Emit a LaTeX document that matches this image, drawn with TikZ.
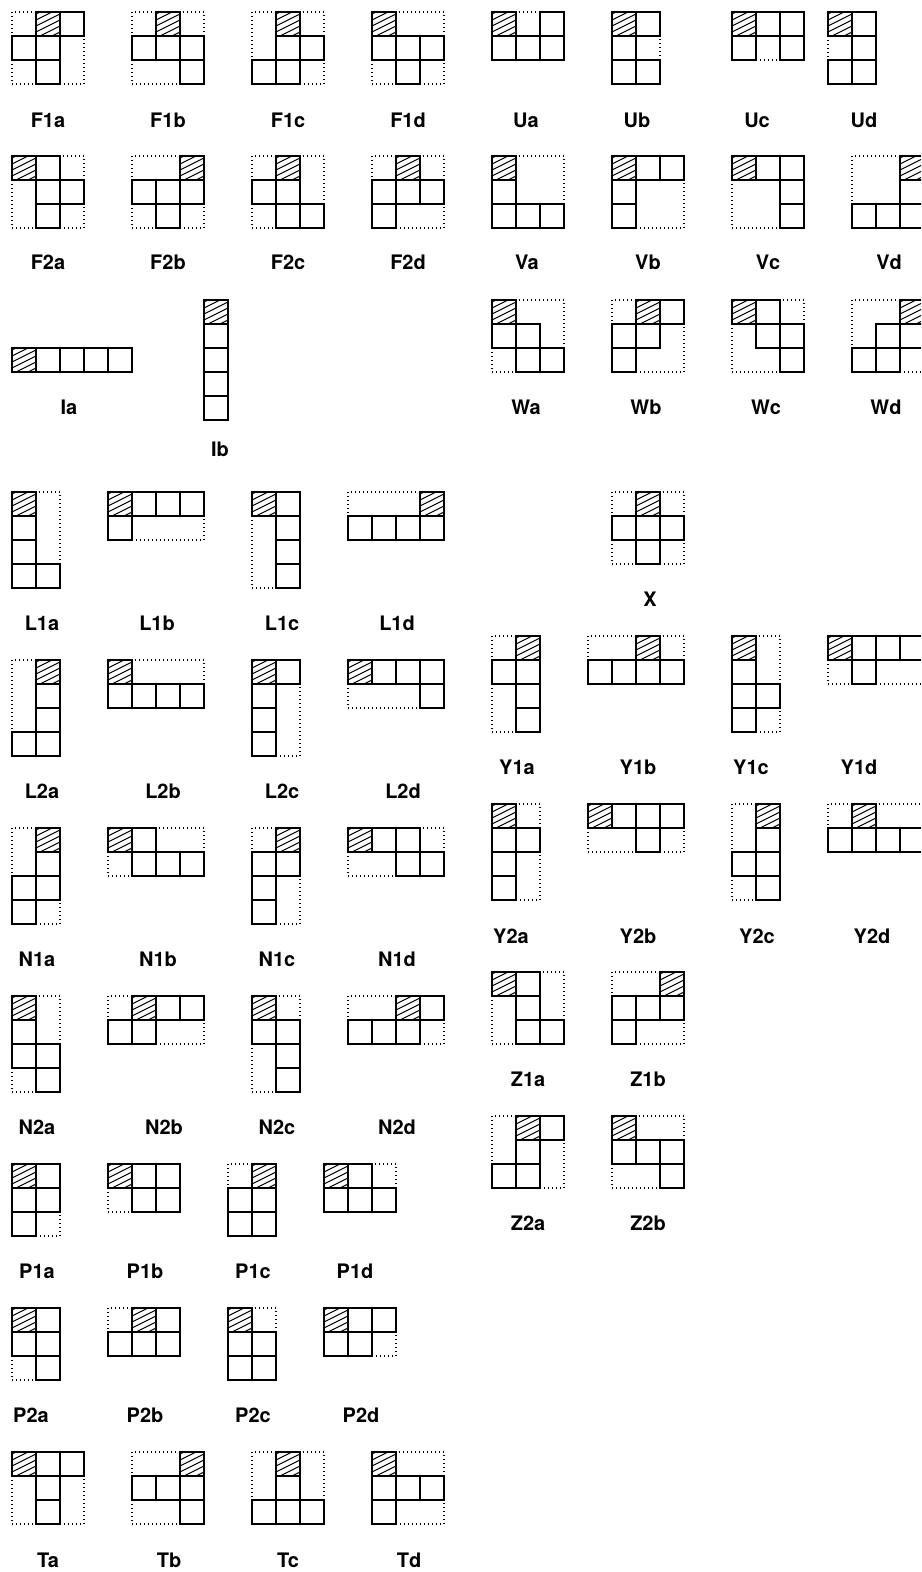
\documentclass[tikz,border=0pt]{standalone}
\usepackage{fontspec}
\newfontfamily\labfont{TeX Gyre Heros}
\tikzset{
  cellln/.style={line width=0.03cm, line join=miter},
  dotbox/.style={line width=0.03cm, dash pattern=on 0.03cm off 0.07cm},
  hatchln/.style={line width=0.025cm},
  lab/.style={anchor=base, inner sep=0pt, font=\labfont\bfseries\fontsize{14.2pt}{17pt}\selectfont}
}
% #1 u0, #2 v0, #3 w, #4 h, #5 #6 hatched cell, #7 other cells
\newcommand{\pfig}[7]{%
  \draw[dotbox] ({12+24*#1},{12+24*#2}) rectangle +({24*#3},{24*#4});
  \begin{scope}
    \clip ({12+24*(#1+#5)},{12+24*(#2+#6)}) rectangle +(24,24);
    \foreach \k in {0,...,6} \draw[hatchln] ({12+24*(#1+#5)},{12+24*(#2+#6)+6*\k+2}) -- +(24,-12);
  \end{scope}
  \draw[cellln] ({12+24*(#1+#5)},{12+24*(#2+#6)}) rectangle +(24,24);
  \foreach \i/\j in {#7} {\draw[cellln] ({12+24*(#1+\i)},{12+24*(#2+\j)}) rectangle +(24,24);}
}
\begin{document}
\begin{tikzpicture}[x=0.025cm, y=-0.025cm]
\path[use as bounding box] (0,0) rectangle (921,1572);
\fill[white] (0,0) rectangle (921,1572);
\clip (0,0) rectangle (921,1572);
% Row F1 / U
\pfig{0}{0}{3}{3}{1}{0}{2/0,0/1,1/1,1/2}
\pfig{5}{0}{3}{3}{1}{0}{0/1,1/1,2/1,2/2}
\pfig{10}{0}{3}{3}{1}{0}{1/1,2/1,0/2,1/2}
\pfig{15}{0}{3}{3}{0}{0}{0/1,1/1,2/1,1/2}
\pfig{20}{0}{3}{2}{0}{0}{2/0,0/1,1/1,2/1}
\pfig{25}{0}{2}{3}{0}{0}{1/0,0/1,0/2,1/2}
\pfig{30}{0}{3}{2}{0}{0}{1/0,2/0,0/1,2/1}
\pfig{34}{0}{2}{3}{0}{0}{1/0,1/1,0/2,1/2}
% Row F2 / V
\pfig{0}{6}{3}{3}{0}{0}{1/0,1/1,2/1,1/2}
\pfig{5}{6}{3}{3}{2}{0}{0/1,1/1,2/1,1/2}
\pfig{10}{6}{3}{3}{1}{0}{0/1,1/1,1/2,2/2}
\pfig{15}{6}{3}{3}{1}{0}{0/1,1/1,2/1,0/2}
\pfig{20}{6}{3}{3}{0}{0}{0/1,0/2,1/2,2/2}
\pfig{25}{6}{3}{3}{0}{0}{1/0,2/0,0/1,0/2}
\pfig{30}{6}{3}{3}{0}{0}{1/0,2/0,2/1,2/2}
\pfig{35}{6}{3}{3}{2}{0}{2/1,0/2,1/2,2/2}
% Row I / W
\pfig{0}{14}{5}{1}{0}{0}{1/0,2/0,3/0,4/0}
\pfig{8}{12}{1}{5}{0}{0}{0/1,0/2,0/3,0/4}
\pfig{20}{12}{3}{3}{0}{0}{0/1,1/1,1/2,2/2}
\pfig{25}{12}{3}{3}{1}{0}{2/0,0/1,1/1,0/2}
\pfig{30}{12}{3}{3}{0}{0}{1/0,1/1,2/1,2/2}
\pfig{35}{12}{3}{3}{2}{0}{1/1,2/1,0/2,1/2}
% L1 / X
\pfig{0}{20}{2}{4}{0}{0}{0/1,0/2,0/3,1/3}
\pfig{4}{20}{4}{2}{0}{0}{1/0,2/0,3/0,0/1}
\pfig{10}{20}{2}{4}{0}{0}{1/0,1/1,1/2,1/3}
\pfig{14}{20}{4}{2}{3}{0}{0/1,1/1,2/1,3/1}
\pfig{25}{20}{3}{3}{1}{0}{0/1,1/1,2/1,1/2}
% L2
\pfig{0}{27}{2}{4}{1}{0}{1/1,1/2,0/3,1/3}
\pfig{4}{27}{4}{2}{0}{0}{0/1,1/1,2/1,3/1}
\pfig{10}{27}{2}{4}{0}{0}{1/0,0/1,0/2,0/3}
\pfig{14}{27}{4}{2}{0}{0}{1/0,2/0,3/0,3/1}
% Y1
\pfig{20}{26}{2}{4}{1}{0}{0/1,1/1,1/2,1/3}
\pfig{24}{26}{4}{2}{2}{0}{0/1,1/1,2/1,3/1}
\pfig{30}{26}{2}{4}{0}{0}{0/1,0/2,1/2,0/3}
\pfig{34}{26}{4}{2}{0}{0}{1/0,2/0,3/0,1/1}
% Y2
\pfig{20}{33}{2}{4}{0}{0}{0/1,1/1,0/2,0/3}
\pfig{24}{33}{4}{2}{0}{0}{1/0,2/0,3/0,2/1}
\pfig{30}{33}{2}{4}{1}{0}{1/1,0/2,1/2,1/3}
\pfig{34}{33}{4}{2}{1}{0}{0/1,1/1,2/1,3/1}
% Z1, Z2
\pfig{20}{40}{3}{3}{0}{0}{1/0,1/1,1/2,2/2}
\pfig{25}{40}{3}{3}{2}{0}{0/1,1/1,2/1,0/2}
\pfig{20}{46}{3}{3}{1}{0}{2/0,1/1,0/2,1/2}
\pfig{25}{46}{3}{3}{0}{0}{0/1,1/1,2/1,2/2}
% N1
\pfig{0}{34}{2}{4}{1}{0}{1/1,0/2,1/2,0/3}
\pfig{4}{34}{4}{2}{0}{0}{1/0,1/1,2/1,3/1}
\pfig{10}{34}{2}{4}{1}{0}{0/1,1/1,0/2,0/3}
\pfig{14}{34}{4}{2}{0}{0}{1/0,2/0,2/1,3/1}
% N2
\pfig{0}{41}{2}{4}{0}{0}{0/1,0/2,1/2,1/3}
\pfig{4}{41}{4}{2}{1}{0}{2/0,3/0,0/1,1/1}
\pfig{10}{41}{2}{4}{0}{0}{0/1,1/1,1/2,1/3}
\pfig{14}{41}{4}{2}{2}{0}{3/0,0/1,1/1,2/1}
% P1
\pfig{0}{48}{2}{3}{0}{0}{1/0,0/1,1/1,0/2}
\pfig{4}{48}{3}{2}{0}{0}{1/0,2/0,1/1,2/1}
\pfig{9}{48}{2}{3}{1}{0}{0/1,1/1,0/2,1/2}
\pfig{13}{48}{3}{2}{0}{0}{1/0,0/1,1/1,2/1}
% P2
\pfig{0}{54}{2}{3}{0}{0}{1/0,0/1,1/1,1/2}
\pfig{4}{54}{3}{2}{1}{0}{2/0,0/1,1/1,2/1}
\pfig{9}{54}{2}{3}{0}{0}{0/1,1/1,0/2,1/2}
\pfig{13}{54}{3}{2}{0}{0}{1/0,2/0,0/1,1/1}
% T
\pfig{0}{60}{3}{3}{0}{0}{1/0,2/0,1/1,1/2}
\pfig{5}{60}{3}{3}{2}{0}{0/1,1/1,2/1,2/2}
\pfig{10}{60}{3}{3}{1}{0}{1/1,0/2,1/2,2/2}
\pfig{15}{60}{3}{3}{0}{0}{0/1,1/1,2/1,0/2}
% Labels
\node[lab] (lF1a) at (48,127) {F1a};
\node[lab] (lF1b) at (168,127) {F1b};
\node[lab] (lF1c) at (288,127) {F1c};
\node[lab] (lF1d) at (408,127) {F1d};
\node[lab] (lUa) at (526,127) {Ua};
\node[lab] (lUb) at (637,127) {Ub};
\node[lab] (lUc) at (757,127) {Uc};
\node[lab] (lUd) at (864,127) {Ud};
\node[lab] (lF2a) at (48,269) {F2a};
\node[lab] (lF2b) at (168,269) {F2b};
\node[lab] (lF2c) at (288,269) {F2c};
\node[lab] (lF2d) at (408,269) {F2d};
\node[lab] (lVa) at (527,269) {Va};
\node[lab] (lVb) at (648,269) {Vb};
\node[lab] (lVc) at (768,269) {Vc};
\node[lab] (lVd) at (889,269) {Vd};
\node[lab] (lIa) at (69,414) {Ia};
\node[lab] (lIb) at (220,456) {Ib};
\node[lab] (lWa) at (526,414) {Wa};
\node[lab] (lWb) at (646,414) {Wb};
\node[lab] (lWc) at (766,414) {Wc};
\node[lab] (lWd) at (886,414) {Wd};
\node[lab] (lL1a) at (42,630) {L1a};
\node[lab] (lL1b) at (157,630) {L1b};
\node[lab] (lL1c) at (282,630) {L1c};
\node[lab] (lL1d) at (397,630) {L1d};
\node[lab] (lX) at (650,606) {X};
\node[lab] (lL2a) at (42,798) {L2a};
\node[lab] (lL2b) at (163,798) {L2b};
\node[lab] (lL2c) at (282,798) {L2c};
\node[lab] (lL2d) at (403,798) {L2d};
\node[lab] (lY1a) at (517,774) {Y1a};
\node[lab] (lY1b) at (638,774) {Y1b};
\node[lab] (lY1c) at (751,774) {Y1c};
\node[lab] (lY1d) at (859,774) {Y1d};
\node[lab] (lY2a) at (511,943) {Y2a};
\node[lab] (lY2b) at (638,943) {Y2b};
\node[lab] (lY2c) at (757,943) {Y2c};
\node[lab] (lY2d) at (872,943) {Y2d};
\node[lab] (lN1a) at (37,966) {N1a};
\node[lab] (lN1b) at (158,966) {N1b};
\node[lab] (lN1c) at (277,966) {N1c};
\node[lab] (lN1d) at (397,966) {N1d};
\node[lab] (lN2a) at (37,1134) {N2a};
\node[lab] (lN2b) at (164,1134) {N2b};
\node[lab] (lN2c) at (277,1134) {N2c};
\node[lab] (lN2d) at (397,1134) {N2d};
\node[lab] (lZ1a) at (528,1086) {Z1a};
\node[lab] (lZ1b) at (648,1086) {Z1b};
\node[lab] (lZ2a) at (528,1230) {Z2a};
\node[lab] (lZ2b) at (648,1230) {Z2b};
\node[lab] (lP1a) at (37,1278) {P1a};
\node[lab] (lP1b) at (145,1278) {P1b};
\node[lab] (lP1c) at (253,1278) {P1c};
\node[lab] (lP1d) at (355,1278) {P1d};
\node[lab] (lP2a) at (31,1422) {P2a};
\node[lab] (lP2b) at (145,1422) {P2b};
\node[lab] (lP2c) at (253,1422) {P2c};
\node[lab] (lP2d) at (361,1422) {P2d};
\node[lab] (lTa) at (48,1567) {Ta};
\node[lab] (lTb) at (169,1567) {Tb};
\node[lab] (lTc) at (288,1567) {Tc};
\node[lab] (lTd) at (409,1567) {Td};
\end{tikzpicture}
\end{document}
